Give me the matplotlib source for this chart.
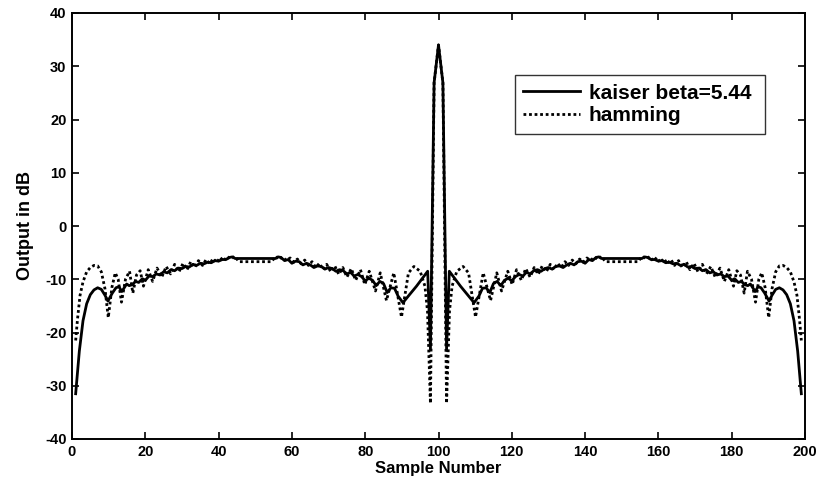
import numpy as np
import matplotlib
matplotlib.use("Agg")
import matplotlib.pyplot as plt

plt.rcParams['font.family'] = ['Liberation Sans', 'DejaVu Sans']
plt.rcParams['axes.unicode_minus'] = False

# Left half of each response (sample 1 .. 100); the response is symmetric about sample 100
kaiser_x = [1, 2, 3, 4, 5, 6, 7, 8, 9, 9.8,
            11, 12, 12.8, 13.6, 14.9, 15.6, 16.6, 17.3, 18.2, 19.2,
            20, 21, 22, 23, 24, 25, 26, 27, 28, 29,
            30, 31, 32, 33, 34, 35, 36, 37, 38, 39,
            40, 41, 42, 43, 43.8, 44.5, 50, 55.5, 56.2, 57,
            58, 59, 60, 61, 62, 63, 64, 65, 66, 67,
            68, 69, 70, 71, 72, 73, 74, 75, 76, 77,
            78, 79, 80, 81, 82, 83, 84, 85, 86, 87,
            88, 89, 90.3, 91, 92.2, 94, 95.4, 97.05, 97.8, 98.8,
            100]
kaiser_db = [-31.5, -23.5, -17.8, -14.6, -12.9, -12.0, -11.6, -11.9, -13.0, -14.1,
             -12.6, -11.6, -11.4, -12.3, -10.9, -11.2, -11.0, -10.4, -10.6, -9.9,
             -10.2, -9.4, -9.5, -9.0, -9.2, -8.6, -8.8, -8.2, -8.4, -7.9,
             -8.0, -7.6, -7.7, -7.2, -7.4, -7.0, -7.1, -6.8, -6.9, -6.5,
             -6.6, -6.3, -6.3, -5.9, -5.8, -6.1, -6.1, -6.1, -5.8, -5.9,
             -6.5, -6.3, -7.0, -6.6, -6.7, -7.3, -7.0, -7.3, -7.8, -7.5,
             -7.6, -8.1, -7.8, -8.0, -8.5, -8.2, -8.4, -9.0, -8.7, -9.4,
             -9.1, -9.5, -10.3, -9.8, -10.2, -11.2, -10.4, -10.8, -12.5, -11.6,
             -11.7, -13.2, -14.4, -13.8, -12.8, -11.3, -10.0, -8.5, -23.2, 26.9,
             34.0]

hamming_x = [1, 1.5, 2.2, 3, 4, 5, 6, 7, 8, 9,
             9.9, 10.9, 11.8, 12.6, 13.5, 14.6, 15.7, 16.6, 17.6, 18.6,
             19.5, 20.8, 22.0, 23.2, 24.5, 25.7, 26.9, 28.0, 29.2, 30.3,
             31.4, 32.4, 33.5, 34.5, 35.6, 36.6, 37.6, 38.5, 39.5, 40.4,
             41.4, 42.3, 43.2, 44.5, 45.5, 54.5, 55.5, 56.5, 57.5, 58.5,
             59.5, 60.5, 61.5, 62.5, 63.5, 64.5, 65.5, 66.5, 67.5, 68.5,
             69.5, 70.6, 71.7, 72.8, 73.9, 75.0, 76.2, 77.4, 78.7, 79.9,
             81.1, 82.8, 84.1, 85.8, 87.8, 89.9, 91.8, 93.3, 95.0, 96.3,
             97.0, 97.8, 98.8, 100]
hamming_db = [-21.5, -17.5, -13.0, -10.5, -8.6, -7.8, -7.4, -7.5, -8.6, -11.8,
              -17.2, -11.5, -8.8, -10.0, -14.3, -10.0, -8.5, -12.6, -9.2, -8.4,
              -11.3, -8.2, -10.4, -7.9, -9.6, -7.6, -9.0, -7.2, -8.6, -7.0,
              -8.2, -6.7, -7.8, -6.5, -7.4, -6.3, -7.1, -6.1, -6.9, -5.9,
              -6.6, -5.7, -6.2, -5.7, -6.7, -6.7, -5.7, -6.3, -5.8, -6.5,
              -6.0, -6.8, -6.2, -7.1, -6.4, -7.4, -6.7, -7.8, -7.0, -8.2,
              -7.2, -8.6, -7.5, -9.1, -7.8, -9.6, -8.0, -10.2, -8.2, -11.0,
              -8.5, -12.2, -8.8, -14.0, -8.8, -17.1, -8.8, -7.6, -8.5, -11.3,
              -16.0, -33.3, 26.9, 34.0]


def full_response(x_half, y_half):
    """Mirror the left half about sample 100 to get samples 1 .. 199."""
    x_half = np.asarray(x_half, dtype=float)
    y_half = np.asarray(y_half, dtype=float)
    x = np.concatenate([x_half, 200 - x_half[::-1][1:]])
    y = np.concatenate([y_half, y_half[::-1][1:]])
    return x, y


kx, ky = full_response(kaiser_x, kaiser_db)
hx, hy = full_response(hamming_x, hamming_db)

fig = plt.figure(figsize=(8.18, 4.80), dpi=100)
ax = fig.add_axes([72 / 818, 1 - 439 / 480, (805 - 72) / 818, (439 - 13) / 480])

ax.plot(kx, ky, color='black', linewidth=2.0, linestyle='-', label='kaiser beta=5.44 ')
ax.plot(hx, hy, color='black', linewidth=2.0, linestyle=(0, (1, 1)), label='hamming')

ax.set_xlim(0, 200)
ax.set_ylim(-40, 40)
ax.set_xticks(np.arange(0, 201, 20))
ax.set_yticks(np.arange(-40, 41, 10))
ax.tick_params(direction='in', length=5, width=1.2, top=True, right=True,
               labelsize=10.5, pad=4)
for lbl in ax.get_xticklabels() + ax.get_yticklabels():
    lbl.set_fontweight('bold')
for s in ax.spines.values():
    s.set_linewidth(1.4)

ax.set_xlabel('Sample Number', fontsize=12, fontweight='bold', labelpad=2)
ax.set_ylabel('Output in dB', fontsize=13, fontweight='bold', labelpad=8)

leg = ax.legend(loc='upper left', bbox_to_anchor=(0.604, 0.854),
                prop={'weight': 'bold', 'size': 15}, frameon=True, fancybox=False,
                edgecolor='black', handlelength=2.75, borderpad=0.4, labelspacing=0.18,
                handletextpad=0.4, borderaxespad=0)
leg.get_frame().set_linewidth(1.0)

fig.savefig('out.png', dpi=100)
